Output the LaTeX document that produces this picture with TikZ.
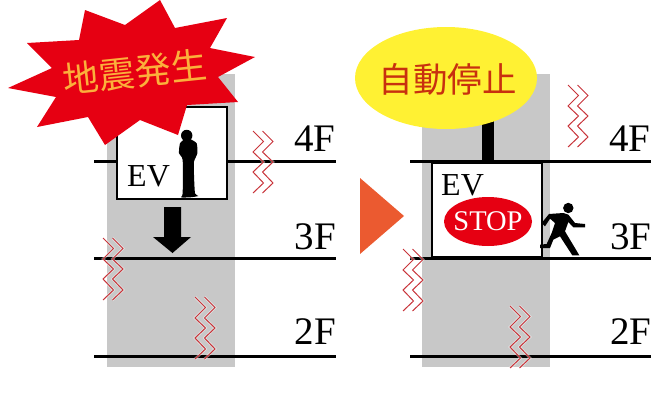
\documentclass[tikz,border=0pt]{standalone}
\usepackage{fontspec}
\setmainfont{Liberation Serif}
\newfontfamily\cjkf{Noto Sans CJK JP}
\usetikzlibrary{shapes.geometric}
\definecolor{shaftgray}{HTML}{C8C8C8}
\definecolor{quakered}{HTML}{E60012}
\definecolor{quakeline}{HTML}{C8343A}
\definecolor{labelorange}{HTML}{FBB03B}
\definecolor{balloonyellow}{HTML}{FFF133}
\definecolor{stoptext}{HTML}{C8300F}
\definecolor{playorange}{HTML}{EB5A30}
\tikzset{
  x=1pt,y=-1pt,
  shaft/.style={fill=shaftgray,draw=none},
  floorline/.style={draw=black,line width=3pt},
  car/.style={draw=black,fill=white,line width=2pt},
  floorlabel/.style={font=\fontsize{39}{39}\selectfont,inner sep=0pt,anchor=base west},
  evlabel/.style={font=\fontsize{32}{32}\selectfont,inner sep=0pt,anchor=base west},
  quake/.style={draw=quakeline,line width=1pt,line join=miter},
  halo/.style={draw=white,opacity=0.45,line width=2.6pt,line join=miter},
  zig/.pic={
    \draw[halo] (0,0)--(10.5,10.5)--(0,21)--(10.5,31)--(0,41)--(10.5,52)--(0,62);
    \draw[halo] (9.5,0)--(20,10.5)--(9.5,21)--(20,31)--(9.5,41)--(20,52)--(9.5,62);
    \draw[quake] (0,0)--(10.5,10.5)--(0,21)--(10.5,31)--(0,41)--(10.5,52)--(0,62);
    \draw[quake] (9.5,0)--(20,10.5)--(9.5,21)--(20,31)--(9.5,41)--(20,52)--(9.5,62);
  }
}
\begin{document}
\begin{tikzpicture}
\useasboundingbox (0,0) rectangle (660,402);
% shafts
\fill[shaft] (107,74) rectangle (235,367);
\fill[shaft] (422,74) rectangle (550,367);
% left floors
\coordinate (l4a) at (94,161); \coordinate (l4b) at (336,161);
\coordinate (l3a) at (94,258.5); \coordinate (l3b) at (336,258.5);
\coordinate (l2a) at (94,356); \coordinate (l2b) at (336,356);
\draw[floorline] (l4a)--(l4b); \draw[floorline] (l3a)--(l3b); \draw[floorline] (l2a)--(l2b);
% right floors
\coordinate (r4a) at (410,161); \coordinate (r4b) at (651,161);
\coordinate (r3a) at (410,258.5); \coordinate (r3b) at (651,258.5);
\coordinate (r2a) at (410,356); \coordinate (r2b) at (651,356);
\draw[floorline] (r4a)--(r4b); \draw[floorline] (r3a)--(r3b); \draw[floorline] (r2a)--(r2b);
% quakes
\pic at (253,131) {zig};
\pic at (103,238) {zig};
\pic at (195,297) {zig};
\pic at (568,85) {zig};
\pic at (403,249) {zig};
\pic at (510,306) {zig};
% floor labels
\node[floorlabel] (l4) at (294,151.5) {4F};
\node[floorlabel] (l3) at (294.5,249.5) {3F};
\node[floorlabel] (l2) at (294.5,344) {2F};
\node[floorlabel] (r4) at (609,151.5) {4F};
\node[floorlabel] (r3) at (610,249.5) {3F};
\node[floorlabel] (r2) at (610,344) {2F};
% left car
\draw[car] (117,107) rectangle (227,199);
\node[evlabel] (evl) at (127,186) {EV};
% person
\fill (186.7,135.5) circle (5.7);
\begin{scope}[shift={(170,125)},x=0.3333pt,y=-0.3333pt]
\fill plot[smooth cycle,tension=0.35] coordinates {(45,42)(30,55)(27,85)(38,105)(38,205)(33,217)(60,217)(85,213)(75,205)(72,150)(72,110)(82,85)(80,55)(60,42)};
\end{scope}
% down arrow
\fill (164,207)--(181,207)--(181,237)--(191,237)--(172.5,253)--(153,237)--(164,237)--cycle;
% star
\fill[quakered] (160,0)--(175,28)--(227,18)--(210,48)--(255,57)--(218,77)--(238,102)--(187,105)--(178,135)--(140,120)--(105,145)--(88,117)--(37,127)--(56,97)--(8,88)--(52,68)--(27,43)--(79,40)--(85,10)--(125,25)--cycle;
\node[font=\cjkf\fontsize{36}{36}\selectfont,text=labelorange,rotate=6,inner sep=0pt] (quake) at (135,72) {地震発生};
% triangle
\fill[playorange] (360,178)--(404,216)--(360,254)--cycle;
% right car and post
\draw[car] (432,163) rectangle (542,257);
\fill (482,120) rectangle (494,162);
\node[evlabel] (evr) at (441,195) {EV};
% stop sign
\fill[quakered] (488,221.5) ellipse [x radius=44,y radius=24.5];
\node[text=white,inner sep=0pt,font=\fontsize{28.5}{28.5}\selectfont] (stop) at (488,221.5) {STOP};
% runner
\fill (568.3,208) circle (5.2);
\begin{scope}[shift={(535,198)},x=0.3333pt,y=-0.3333pt]
\fill (20,75)--(42,48)--(85,45)--(100,50)--(120,75)--(150,78)--(150,88)--(115,88)--(100,72)--(90,100)--(133,172)--(112,172)--(75,115)--(55,125)--(45,150)--(15,150)--(15,140)--(35,138)--(50,105)--(60,75)--(45,62)--(30,85)--cycle;
\end{scope}
% balloon
\node[ellipse,fill=balloonyellow,draw=none,minimum width=182pt,minimum height=102pt,inner sep=0pt] (balloon) at (446,78) {};
\node[font=\cjkf\fontsize{34.5}{34.5}\selectfont,text=stoptext,inner sep=0pt] (stoplabel) at (447.5,79) {自動停止};
\end{tikzpicture}
\end{document}
